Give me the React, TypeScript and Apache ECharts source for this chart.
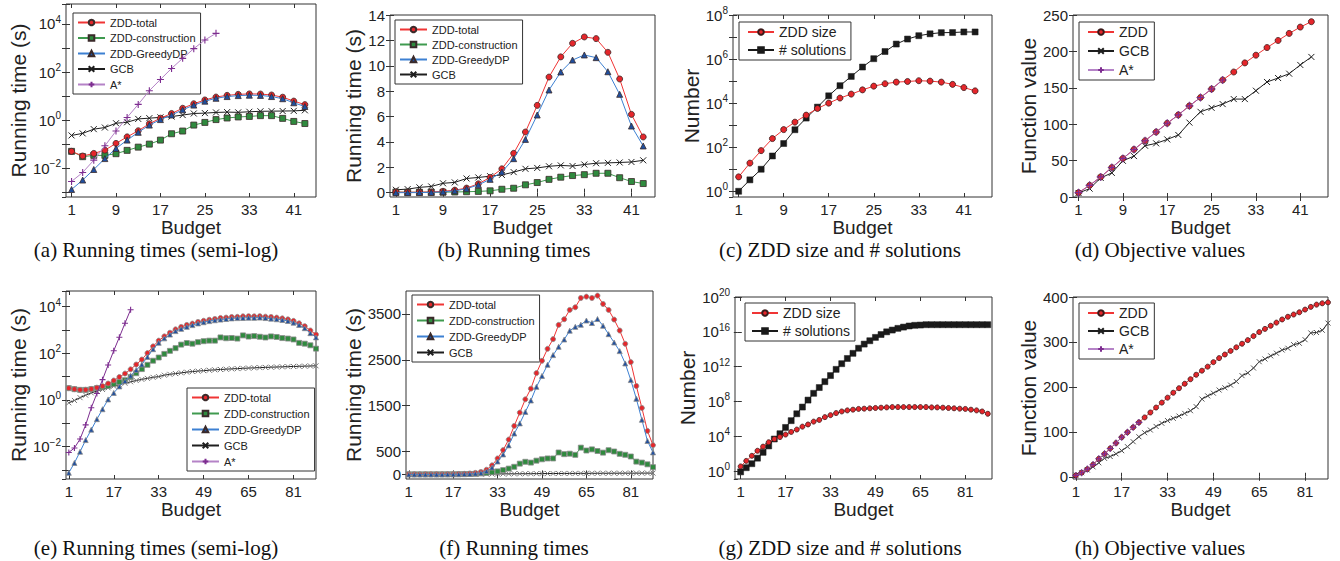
import React, { useEffect, useRef } from "react";
import * as echarts from "echarts";

const FONT = "Liberation Sans";
const SERIF = "Liberation Serif";

// ---------- budgets & ticks ----------
const budgetsTop = [1, 3, 5, 7, 9, 11, 13, 15, 17, 19, 21, 23, 25, 27, 29, 31, 33, 35, 37, 39, 41, 43];
const budgetsTopAstar = [1, 3, 5, 7, 9, 11, 13, 15, 17, 19, 21, 23, 25, 27];
const budgetsBottom = [1, 3, 5, 7, 9, 11, 13, 15, 17, 19, 21, 23, 25, 27, 29, 31, 33, 35, 37, 39, 41, 43, 45, 47, 49, 51, 53, 55, 57, 59, 61, 63, 65, 67, 69, 71, 73, 75, 77, 79, 81, 83, 85, 87, 89];
const budgetsBottomAstar = [1, 3, 5, 7, 9, 11, 13, 15, 17, 19, 21, 23];
const xTicksTop = [1, 9, 17, 25, 33, 41];
const xTicksBottom = [1, 17, 33, 49, 65, 81];
const yTicksB = [0, 2, 4, 6, 8, 10, 12, 14];
const yTicksD = [0, 50, 100, 150, 200, 250];
const yTicksF = [0, 500, 1500, 2500, 3500];
const yTicksH = [0, 100, 200, 300, 400];

// ---------- top row: running times (s) ----------
const zddTotalTop = [0.05, 0.032, 0.041, 0.056, 0.107, 0.2, 0.36, 0.7, 1.2, 1.88, 3.1, 4.78, 6.88, 9.11, 10.7, 11.77, 12.27, 12.14, 11.06, 8.96, 6.17, 4.39];
const zddConstrTop = [0.05, 0.03, 0.034, 0.034, 0.04, 0.055, 0.075, 0.1, 0.147, 0.27, 0.35, 0.62, 0.8, 1.05, 1.22, 1.35, 1.42, 1.53, 1.53, 1.18, 0.88, 0.72];
const zddGreedyTop = [0.0013, 0.0032, 0.0088, 0.025, 0.066, 0.147, 0.31, 0.62, 1.05, 1.63, 2.68, 4.2, 6.12, 8.09, 9.51, 10.45, 10.85, 10.64, 9.53, 7.75, 5.25, 3.68];
const gcbTimeTop = [0.23, 0.28, 0.42, 0.49, 0.74, 0.81, 1.12, 1.2, 1.3, 1.4, 1.62, 1.88, 1.95, 2.08, 2.15, 2.1, 2.22, 2.32, 2.35, 2.38, 2.42, 2.55];
const astarTimeTop = [0.0028, 0.0066, 0.0215, 0.085, 0.35, 1.29, 4.5, 16.7, 49, 141, 370, 940, 2150, 4070];

// ---------- top row: ZDD size / # solutions ----------
const zddSizeTop = [4.5, 19, 70, 247, 630, 1370, 2850, 5700, 10000, 17000, 25700, 40000, 59000, 76000, 90000, 96000, 104000, 100000, 90000, 71000, 51000, 36000];
const solutionsTop = [1, 3.3, 10, 40, 147, 620, 2100, 6600, 21500, 62000, 163000, 435000, 1.04e6, 2.2e6, 4.8e6, 8.1e6, 1.15e7, 1.4e7, 1.58e7, 1.6e7, 1.7e7, 1.7e7];

// ---------- top row: objective values ----------
const zddObjTop = [6, 16, 27.6, 40.5, 53, 65.3, 77.3, 89.3, 101.3, 112.8, 125.2, 136.7, 148.3, 160.7, 171.7, 184.2, 194.8, 205.3, 215, 224.7, 233.4, 240.8];
const gcbObjTop = [5.5, 11.5, 26.2, 33.1, 49.7, 56.2, 70.4, 73.7, 79.1, 85.2, 102.2, 117, 122.5, 127.6, 134.5, 134.5, 146, 158, 163.4, 169.4, 181.4, 192.4];
const astarObjTop = [6, 16, 27.6, 40.5, 53, 65.3, 77.3, 89.3, 101.3, 112.8, 125.2, 136.7, 148.3, 160.7];

// ---------- bottom row: running times (s) ----------
const zddTotalBottom = [3.2, 2.9, 2.7, 2.72, 2.95, 3.35, 3.9, 5.05, 6.8, 9.6, 13.5, 20.5, 33, 54, 102, 198, 348, 530, 760, 1058, 1348, 1638, 1870, 2210, 2478, 2739, 2950, 3261, 3384, 3587, 3645, 3848, 3877, 3848, 3899, 3717, 3587, 3377, 3138, 2848, 2449, 1928, 1449, 949, 638];
const zddConstrBottom = [3.2, 2.9, 2.7, 2.7, 2.9, 3.2, 3.5, 4.0, 4.8, 5.8, 7.0, 9.5, 14, 21, 32, 48, 66, 94, 127, 166, 235, 275, 258, 300, 330, 348, 348, 478, 442, 452, 427, 584, 521, 546, 510, 475, 528, 500, 449, 428, 391, 279, 258, 220, 158];
const zddGreedyBottom = [0.00075, 0.002, 0.006, 0.019, 0.053, 0.15, 0.4, 1.05, 2.0, 3.8, 6.5, 11, 19, 33, 70, 150, 282, 436, 633, 892, 1113, 1363, 1612, 1910, 2148, 2391, 2602, 2783, 2942, 3135, 3218, 3264, 3356, 3302, 3389, 3242, 3059, 2877, 2689, 2420, 2058, 1649, 1191, 729, 480];
const gcbTimeBottom = [0.75, 0.95, 1.25, 1.6, 2.0, 2.4, 2.8, 3.3, 3.9, 4.5, 5.2, 6.0, 6.8, 7.6, 8.4, 9.3, 10, 11.5, 12.5, 13.5, 14.5, 15.5, 16.5, 17.2, 18, 18.8, 19.5, 20.2, 20.8, 21.5, 22, 22.6, 23.2, 23.8, 24.3, 24.8, 25.3, 25.8, 26.3, 26.8, 27.2, 27.6, 28, 28.5, 29];
const astarTimeBottom = [0.0056, 0.0087, 0.021, 0.085, 0.46, 1.9, 7.4, 31.6, 129, 490, 1950, 7400];

// ---------- bottom row: ZDD size / # solutions ----------
const zddSizeBottom = [3.5, 15, 58, 220, 660, 2100, 4900, 8300, 1.6e4, 3.2e4, 6.0e4, 1.3e5, 2.3e5, 4.9e5, 7.6e5, 1.6e6, 2.7e6, 4.7e6, 7.2e6, 9.5e6, 1.15e7, 1.4e7, 1.5e7, 1.65e7, 1.8e7, 1.95e7, 2.1e7, 2.3e7, 2.3e7, 2.3e7, 2.3e7, 2.3e7, 2.3e7, 2.3e7, 2.1e7, 2.1e7, 1.95e7, 1.8e7, 1.65e7, 1.5e7, 1.4e7, 1.15e7, 9.5e6, 7.2e6, 3.9e6];
const solutionsBottom = [0.83, 2.5, 7.2, 31, 145, 790, 4900, 2.0e4, 1.05e5, 6.3e5, 3.9e6, 2.3e7, 1.45e8, 8.7e8, 4.0e9, 1.9e10, 9.5e10, 4.9e11, 2.2e12, 8.7e12, 3.4e13, 1.3e14, 3.9e14, 9.5e14, 2.3e15, 4.9e15, 1.0e16, 1.6e16, 2.5e16, 3.5e16, 4.7e16, 5.6e16, 6.0e16, 6.6e16, 6.6e16, 6.6e16, 6.6e16, 6.6e16, 6.6e16, 6.6e16, 6.6e16, 6.6e16, 6.6e16, 6.6e16, 6.6e16];

// ---------- bottom row: objective values ----------
const zddObjBottom = [3, 9, 17, 27, 40, 51, 63, 75, 88, 99, 110, 121, 132, 143, 154, 165, 176, 187, 197, 207, 217, 227, 236, 245, 255, 264, 272, 280, 288, 296, 304, 313, 322, 329, 336, 343, 350, 356, 361, 366, 372, 378, 383, 386, 388];
const gcbObjBottom = [3.8, 9, 15, 22, 31, 41, 45, 51, 58, 67, 78, 89, 98, 104, 112, 119, 125, 130, 135, 141, 147, 156, 173, 180, 186, 193, 198, 204, 212, 225, 231, 242, 256, 262, 269, 275, 282, 286, 294, 297, 305, 320, 321, 326, 342];
const astarObjBottom = [3, 9, 17, 27, 40, 51, 63, 75, 88, 99, 110, 121];

// ---------- styles ----------
const X_PATH = "path://M0,0L10,10M10,0L0,10";
const PLUS_PATH = "path://M5,0L5,10M0,5L10,5";

type Sty = { symbol: string; size: number; line: string; face: string; edge: string; bw: number; z: number };
const sTotal = (size: number, edge: string): Sty => ({ symbol: "circle", size, line: "#f03535", face: "#e5262b", edge, bw: 0.8, z: 5 });
const sConstr = (size: number, edge: string): Sty => ({ symbol: "rect", size, line: "#3f9a4f", face: "#2f8a3e", edge, bw: 0.8, z: 4 });
const sGreedy = (size: number, edge: string): Sty => ({ symbol: "triangle", size, line: "#3d80d2", face: "#1f4f9f", edge, bw: 0.8, z: 6 });
const sGcb = (size: number, col: string): Sty => ({ symbol: X_PATH, size, line: "#1e1e1e", face: col, edge: col, bw: 1, z: 3 });
const sAstar = (size: number, line: string): Sty => ({ symbol: PLUS_PATH, size, line, face: "#7d2d90", edge: "#7d2d90", bw: 1.1, z: 7 });
const sSize = (size: number): Sty => ({ symbol: "circle", size, line: "#f03535", face: "#e5262b", edge: "#3a1a1a", bw: 0.8, z: 5 });
const sSol = (size: number): Sty => ({ symbol: "rect", size, line: "#1a1a1a", face: "#1a1a1a", edge: "#1a1a1a", bw: 0.5, z: 4 });

const GRIDS = [
  { left: 66, top: 4, width: 250, height: 193 },
  { left: 390, top: 15, width: 265, height: 182 },
  { left: 733, top: 15, width: 259, height: 182 },
  { left: 1073, top: 15, width: 255, height: 182 },
  { left: 66, top: 291, width: 250, height: 188 },
  { left: 406, top: 291, width: 247, height: 188 },
  { left: 735, top: 297, width: 257, height: 182 },
  { left: 1073, top: 297, width: 255, height: 182 },
];

const tickStyle = (ticks?: number[]) => ({
  show: true,
  inside: true,
  length: 4,
  lineStyle: { color: "#333", width: 1 },
  ...(ticks ? { customValues: ticks } : {}),
});

const plainNumber = (v: number) => String(v);

function xPair(g: number, min: number, max: number, ticks: number[], nameGap: number) {
  const common = { type: "value", gridIndex: g, min, max, splitLine: { show: false }, axisLine: { show: false } };
  return [
    {
      ...common,
      position: "bottom",
      axisTick: tickStyle(ticks),
      axisLabel: { customValues: ticks, formatter: plainNumber, fontSize: 15, color: "#222", fontFamily: FONT, margin: 5 },
      name: "Budget",
      nameLocation: "middle",
      nameGap,
      nameTextStyle: { fontSize: 19, color: "#222", fontFamily: FONT },
    },
    { ...common, position: "top", axisTick: tickStyle(ticks), axisLabel: { show: false, customValues: ticks } },
  ];
}

function yLinear(g: number, min: number, max: number, ticks: number[], name: string, nameGap: number) {
  const common = { type: "value", gridIndex: g, min, max, splitLine: { show: false }, axisLine: { show: false } };
  return [
    {
      ...common,
      position: "left",
      axisTick: tickStyle(ticks),
      axisLabel: { customValues: ticks, formatter: plainNumber, fontSize: 15, color: "#222", fontFamily: FONT, margin: 5 },
      name,
      nameLocation: "middle",
      nameGap,
      nameTextStyle: { fontSize: 21, color: "#222", fontFamily: FONT },
    },
    { ...common, position: "right", axisTick: tickStyle(ticks), axisLabel: { show: false, customValues: ticks } },
  ];
}

const supRich = {
  b: { fontSize: 15, color: "#222", fontFamily: FONT },
  s: { fontSize: 10, color: "#222", fontFamily: FONT, padding: [0, 0, 9, 0] },
};

function logFormatter(step: number) {
  return (v: number) => {
    const e = Math.log10(v);
    const r = Math.round(e);
    if (Math.abs(e - r) > 1e-6 || r % step !== 0) return "";
    const t = r < 0 ? "\u2212" + String(-r) : String(r);
    return "{b|10}{s|" + t + "}";
  };
}

function yLog(g: number, min: number, max: number, base: number, step: number, name: string, nameGap: number) {
  const common = { type: "log", logBase: base, gridIndex: g, min, max, splitLine: { show: false }, axisLine: { show: false }, minorTick: { show: false } };
  return [
    {
      ...common,
      position: "left",
      axisTick: tickStyle(),
      axisLabel: { formatter: logFormatter(step), rich: supRich, margin: 5, showMinLabel: false, showMaxLabel: true },
      name,
      nameLocation: "middle",
      nameGap,
      nameTextStyle: { fontSize: 21, color: "#222", fontFamily: FONT },
    },
    { ...common, position: "right", axisTick: tickStyle(), axisLabel: { show: false } },
  ];
}

function line(name: string, xs: number[], ys: number[], g: number, s: Sty) {
  return {
    type: "line",
    name,
    xAxisIndex: 2 * g,
    yAxisIndex: 2 * g,
    data: xs.map((x, i) => [x, ys[i]]),
    symbol: s.symbol,
    symbolSize: s.size,
    showSymbol: true,
    lineStyle: { color: s.line, width: 1 },
    itemStyle: { color: s.face, borderColor: s.edge, borderWidth: s.bw },
    emphasis: { disabled: true },
    silent: true,
    z: s.z,
    clip: true,
  };
}

function legend(names: string[], left: number, top: number, fontSize: number, itemGap: number, padding: number[], itemWidth: number, itemHeight: number) {
  return {
    show: true,
    orient: "vertical",
    left,
    top,
    data: names,
    itemWidth,
    itemHeight,
    itemGap,
    selectedMode: false,
    textStyle: { fontSize, color: "#222", fontFamily: FONT },
    borderColor: "#333",
    borderWidth: 1,
    borderRadius: 0,
    padding,
    backgroundColor: "#fff",
  };
}

const captions = [
  { text: "(a) Running times (semi-log)", x: 156, y: 250 },
  { text: "(b) Running times", x: 514, y: 250 },
  { text: "(c) ZDD size and # solutions", x: 840, y: 250 },
  { text: "(d) Objective values", x: 1160, y: 250 },
  { text: "(e) Running times (semi-log)", x: 156, y: 548 },
  { text: "(f) Running times", x: 514, y: 548 },
  { text: "(g) ZDD size and # solutions", x: 840, y: 548 },
  { text: "(h) Objective values", x: 1160, y: 548 },
];

const RT = "Running time (s)";

function buildOption() {
  const xAxis = [
    ...xPair(0, 0, 45, xTicksTop, 15),
    ...xPair(1, 0, 45, xTicksTop, 15),
    ...xPair(2, 0, 46, xTicksTop, 15),
    ...xPair(3, 0, 46, xTicksTop, 15),
    ...xPair(4, 0, 89, xTicksBottom, 15),
    ...xPair(5, 0, 89, xTicksBottom, 15),
    ...xPair(6, -1, 90.5, xTicksBottom, 15),
    ...xPair(7, 0, 89, xTicksBottom, 15),
  ];
  const yAxis = [
    ...yLog(0, Math.pow(10, -3.2), Math.pow(10, 4.83), 10, 2, RT, 37),
    ...yLinear(1, -0.34, 14, yTicksB, RT, 22),
    ...yLog(2, Math.pow(10, -0.26), 1e8, 10, 2, "Number", 29),
    ...yLinear(3, 0, 250, yTicksD, "Function value", 32),
    ...yLog(4, Math.pow(10, -3.39), Math.pow(10, 4.67), 10, 2, RT, 37),
    ...yLinear(5, -100, 4000, yTicksF, RT, 40),
    ...yLog(6, Math.pow(10, -0.9), 1e20, 10000, 4, "Number", 31),
    ...yLinear(7, -5, 400, yTicksH, "Function value", 32),
  ];

  const edgeTop = "#3a2a2a";
  const edgeBot = "#8a8a8a";
  const series = [
    // (a)
    line("ZDD-total", budgetsTop, zddTotalTop, 0, sTotal(6, edgeTop)),
    line("ZDD-construction", budgetsTop, zddConstrTop, 0, sConstr(6, edgeTop)),
    line("ZDD-GreedyDP", budgetsTop, zddGreedyTop, 0, sGreedy(6, edgeTop)),
    line("GCB", budgetsTop, gcbTimeTop, 0, sGcb(6, "#1e1e1e")),
    line("A*", budgetsTopAstar, astarTimeTop, 0, sAstar(7, "#b583c7")),
    // (b)
    line("ZDD-total", budgetsTop, zddTotalTop, 1, sTotal(6, edgeTop)),
    line("ZDD-construction", budgetsTop, zddConstrTop, 1, sConstr(6, edgeTop)),
    line("ZDD-GreedyDP", budgetsTop, zddGreedyTop, 1, sGreedy(6, edgeTop)),
    line("GCB", budgetsTop, gcbTimeTop, 1, sGcb(6, "#1e1e1e")),
    // (c)
    line("ZDD size", budgetsTop, zddSizeTop, 2, sSize(6)),
    line("# solutions", budgetsTop, solutionsTop, 2, sSol(6)),
    // (d)
    line("ZDD", budgetsTop, zddObjTop, 3, sSize(6)),
    line("GCB", budgetsTop, gcbObjTop, 3, sGcb(6, "#1e1e1e")),
    line("A*", budgetsTopAstar, astarObjTop, 3, sAstar(8, "#9a5aae")),
    // (e)
    line("ZDD-total", budgetsBottom, zddTotalBottom, 4, sTotal(5, edgeBot)),
    line("ZDD-construction", budgetsBottom, zddConstrBottom, 4, sConstr(5, edgeBot)),
    line("ZDD-GreedyDP", budgetsBottom, zddGreedyBottom, 4, sGreedy(5, edgeBot)),
    line("GCB", budgetsBottom, gcbTimeBottom, 4, sGcb(5, "#777")),
    line("A*", budgetsBottomAstar, astarTimeBottom, 4, sAstar(6, "#7d2d90")),
    // (f)
    line("ZDD-total", budgetsBottom, zddTotalBottom, 5, sTotal(5, edgeBot)),
    line("ZDD-construction", budgetsBottom, zddConstrBottom, 5, sConstr(5, edgeBot)),
    line("ZDD-GreedyDP", budgetsBottom, zddGreedyBottom, 5, sGreedy(5, edgeBot)),
    line("GCB", budgetsBottom, gcbTimeBottom, 5, sGcb(5, "#777")),
    // (g)
    line("ZDD size", budgetsBottom, zddSizeBottom, 6, sSize(5)),
    line("# solutions", budgetsBottom, solutionsBottom, 6, sSol(6)),
    // (h)
    line("ZDD", budgetsBottom, zddObjBottom, 7, sSize(5)),
    line("GCB", budgetsBottom, gcbObjBottom, 7, sGcb(5, "#555")),
    line("A*", budgetsBottomAstar, astarObjBottom, 7, sAstar(7, "#9a5aae")),
  ];

  const five = ["ZDD-total", "ZDD-construction", "ZDD-GreedyDP", "GCB", "A*"];
  const four = ["ZDD-total", "ZDD-construction", "ZDD-GreedyDP", "GCB"];
  const two = ["ZDD size", "# solutions"];
  const three = ["ZDD", "GCB", "A*"];

  const legends = [
    legend(five, 73, 13, 11, 4.5, [4, 5, 4, 4], 27, 7),
    legend(four, 395, 20, 11, 4, [4, 5, 4, 4], 27, 7),
    legend(two, 739, 22, 14, 4, [3, 5, 3, 8], 26, 7),
    legend(three, 1079, 22, 14, 5, [3, 5, 3, 8], 26, 7),
    legend(five, 187, 388, 11, 5, [4, 5, 4, 4], 27, 7),
    legend(four, 412, 295, 11, 5, [4, 5, 4, 4], 27, 7),
    legend(two, 745, 303, 14, 4, [3, 5, 3, 6], 26, 7),
    legend(three, 1079, 303, 14, 4, [3, 5, 3, 8], 26, 7),
  ];

  return {
    animation: false,
    backgroundColor: "#ffffff",
    textStyle: { fontFamily: FONT },
    grid: GRIDS.map((g) => ({ ...g, show: true, borderColor: "#333", borderWidth: 1, backgroundColor: "transparent", containLabel: false, outerBoundsMode: "none" })),
    xAxis,
    yAxis,
    legend: legends,
    series,
    graphic: captions.map((c) => ({
      type: "text",
      x: c.x,
      y: c.y,
      silent: true,
      style: { text: c.text, fontSize: 21, fontFamily: SERIF, fill: "#111", align: "center", verticalAlign: "middle" },
    })),
  };
}

export default function App() {
  const ref = useRef<HTMLDivElement>(null);
  useEffect(() => {
    if (!ref.current) return;
    const chart = echarts.init(ref.current, undefined, { renderer: "svg" });
    chart.setOption(buildOption() as any);
    return () => chart.dispose();
  }, []);
  return <div ref={ref} style={{ position: "absolute", left: 0, top: 0, width: 1340, height: 561, background: "#fff" }} />;
}
